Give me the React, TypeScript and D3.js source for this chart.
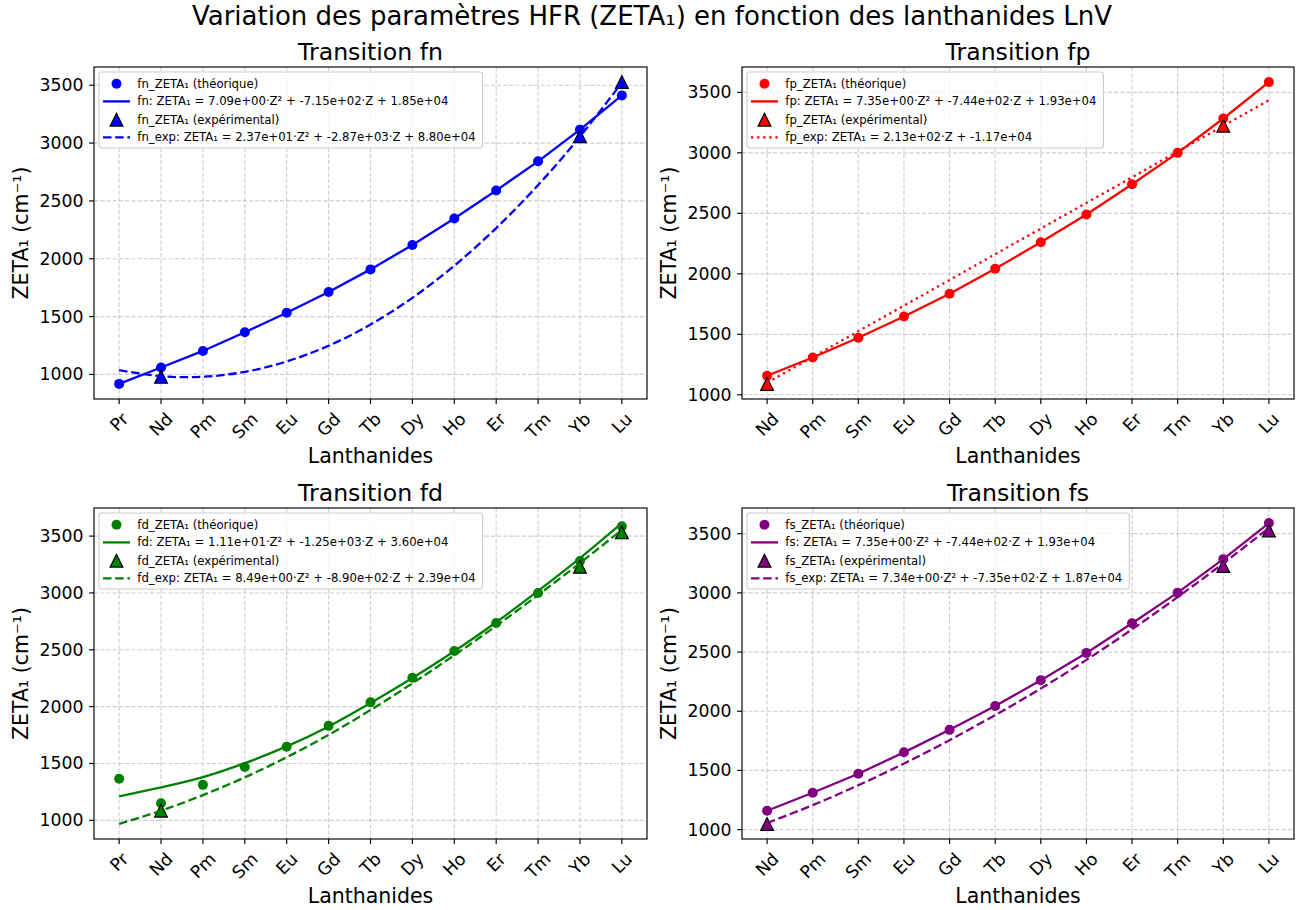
import React from 'react';
import * as d3 from 'd3';

// ---------- data ----------
const lanthanidesA = ["Pr", "Nd", "Pm", "Sm", "Eu", "Gd", "Tb", "Dy", "Ho", "Er", "Tm", "Yb", "Lu"];
const lanthanidesB = ["Nd", "Pm", "Sm", "Eu", "Gd", "Tb", "Dy", "Ho", "Er", "Tm", "Yb", "Lu"];
const yTicks = [1000, 1500, 2000, 2500, 3000, 3500];

// fn
const fnTheo = [918, 1060, 1203, 1365, 1533, 1713, 1908, 2119, 2348, 2590, 2842, 3116, 3412];
const fnFit = [918, 1060, 1203, 1365, 1533, 1713, 1908, 2119, 2348, 2590, 2842, 3116, 3412];
const fnExpCats = ["Nd", "Yb", "Lu"];
const fnExpVals = [979, 3059, 3527];
const fnExpFit = [1037, 985, 980, 1022, 1112, 1248, 1431, 1662, 1940, 2265, 2637, 3056, 3522];

// fp
const fpTheo = [1157, 1308, 1471, 1647, 1835, 2042, 2261, 2491, 2740, 3000, 3284, 3585];
const fpFit = [1157, 1308, 1471, 1647, 1835, 2042, 2261, 2491, 2740, 3000, 3284, 3585];
const fpExpCats = ["Nd", "Yb"];
const fpExpVals = [1090, 3225];
const fpExpFit = [1100, 1312, 1525, 1737, 1949, 2162, 2374, 2586, 2798, 3011, 3223, 3435];

// fd
const fdTheo = [1366, 1150, 1312, 1469, 1647, 1831, 2038, 2254, 2490, 2736, 3000, 3281, 3586];
const fdFit = [1211, 1290, 1380, 1503, 1650, 1826, 2032, 2252, 2487, 2742, 3018, 3307, 3615];
const fdExpCats = ["Nd", "Yb", "Lu"];
const fdExpVals = [1085, 3230, 3533];
const fdExpFit = [968, 1085, 1222, 1378, 1555, 1752, 1970, 2205, 2452, 2710, 2982, 3263, 3555];

// fs
const fsTheo = [1160, 1312, 1472, 1653, 1843, 2044, 2263, 2493, 2743, 3002, 3285, 3590];
const fsFit = [1160, 1312, 1472, 1653, 1843, 2044, 2263, 2493, 2743, 3002, 3285, 3590];
const fsExpCats = ["Nd", "Yb", "Lu"];
const fsExpVals = [1048, 3227, 3528];
const fsExpFit = [1056, 1207, 1375, 1558, 1756, 1968, 2192, 2434, 2692, 2965, 3250, 3548];

const fnLabels = [
  "fn_ZETA₁ (théorique)",
  "fn: ZETA₁ = 7.09e+00·Z² + -7.15e+02·Z + 1.85e+04",
  "fn_ZETA₁ (expérimental)",
  "fn_exp: ZETA₁ = 2.37e+01·Z² + -2.87e+03·Z + 8.80e+04",
];
const fpLabels = [
  "fp_ZETA₁ (théorique)",
  "fp: ZETA₁ = 7.35e+00·Z² + -7.44e+02·Z + 1.93e+04",
  "fp_ZETA₁ (expérimental)",
  "fp_exp: ZETA₁ = 2.13e+02·Z + -1.17e+04",
];
const fdLabels = [
  "fd_ZETA₁ (théorique)",
  "fd: ZETA₁ = 1.11e+01·Z² + -1.25e+03·Z + 3.60e+04",
  "fd_ZETA₁ (expérimental)",
  "fd_exp: ZETA₁ = 8.49e+00·Z² + -8.90e+02·Z + 2.39e+04",
];
const fsLabels = [
  "fs_ZETA₁ (théorique)",
  "fs: ZETA₁ = 7.35e+00·Z² + -7.44e+02·Z + 1.93e+04",
  "fs_ZETA₁ (expérimental)",
  "fs_exp: ZETA₁ = 7.34e+00·Z² + -7.35e+02·Z + 1.87e+04",
];

// ---------- layout / style ----------
const FONT = '"DejaVu Sans", "Liberation Sans", sans-serif';
const W = 1299, H = 910;
const LW = 2.3;
const DASH = `${3.7 * LW},${1.6 * LW}`;
const DOT = `${1 * LW},${1.65 * LW}`;

let canvasEl: HTMLCanvasElement | null = null;
function textWidth(t: string, size: number) {
  if (!canvasEl) canvasEl = document.createElement('canvas');
  const ctx = canvasEl.getContext('2d')!;
  ctx.font = `${size}px "DejaVu Sans"`;
  return ctx.measureText(t).width;
}

type PanelDef = {
  title: string; color: string; cats: string[]; theo: number[]; fit: number[]; fitSmooth: boolean;
  expCats: string[]; expVals: number[]; expFit: number[]; expDash: string; labels: string[];
  box: { x0: number; x1: number; y0: number; y1: number }; ylabX: number;
};

const panels: PanelDef[] = [
  { title: "Transition fn", color: "#0000ff", cats: lanthanidesA, theo: fnTheo, fit: fnFit, fitSmooth: false,
    expCats: fnExpCats, expVals: fnExpVals, expFit: fnExpFit, expDash: DASH, labels: fnLabels,
    box: { x0: 94, x1: 647, y0: 67, y1: 399 }, ylabX: 28 },
  { title: "Transition fp", color: "#ff0000", cats: lanthanidesB, theo: fpTheo, fit: fpFit, fitSmooth: false,
    expCats: fpExpCats, expVals: fpExpVals, expFit: fpExpFit, expDash: DOT, labels: fpLabels,
    box: { x0: 742, x1: 1294, y0: 67, y1: 399 }, ylabX: 676 },
  { title: "Transition fd", color: "#008000", cats: lanthanidesA, theo: fdTheo, fit: fdFit, fitSmooth: true,
    expCats: fdExpCats, expVals: fdExpVals, expFit: fdExpFit, expDash: DASH, labels: fdLabels,
    box: { x0: 94, x1: 647, y0: 508, y1: 839 }, ylabX: 28 },
  { title: "Transition fs", color: "#800080", cats: lanthanidesB, theo: fsTheo, fit: fsFit, fitSmooth: false,
    expCats: fsExpCats, expVals: fsExpVals, expFit: fsExpFit, expDash: DASH, labels: fsLabels,
    box: { x0: 742, x1: 1294, y0: 508, y1: 839 }, ylabX: 676 },
];

const TICK_FS = 17.3;
const LEG_FS = 11.7;
const CIRCLE_R = 5;
const TRI = 12.8;

function triPath(cx: number, cy: number, s: number) {
  const h = s / 2;
  return `M${cx},${cy - h}L${cx - h},${cy + h}L${cx + h},${cy + h}Z`;
}

function Panel({ p }: { p: PanelDef }) {
  const { box } = p;
  const n = p.cats.length;
  const x = d3.scaleLinear().domain([-0.05 * (n - 1), (n - 1) * 1.05]).range([box.x0, box.x1]);
  const all = [...p.theo, ...p.fit, ...p.expVals, ...p.expFit];
  const mn = d3.min(all)!, mx = d3.max(all)!;
  const pad = (mx - mn) * 0.05;
  const y = d3.scaleLinear().domain([mn - pad, mx + pad]).range([box.y1, box.y0]);

  const line = d3.line<number>().x((_, i) => x(i)).y(d => y(d))
    .curve(p.fitSmooth ? d3.curveNatural : d3.curveLinear);
  const expLine = d3.line<number>().x((_, i) => x(i)).y(d => y(d)).curve(d3.curveNatural);

  const cx = (box.x0 + box.x1) / 2;
  const cy = (box.y0 + box.y1) / 2;

  // legend
  const lx = box.x0 + 5, ly = box.y0 + 5;
  const textX = lx + 38.3;
  const maxW = d3.max(p.labels, t => textWidth(t, LEG_FS))!;
  const legW = 38.3 + maxW + 7;
  const legH = 76;
  const rowY = [11.7, 29.4, 47.7, 65.4].map(v => ly + v);
  const hx0 = lx + 4, hx1 = lx + 31, hcx = (hx0 + hx1) / 2;

  return (
    <g>
      {/* grid */}
      <g>
        {p.cats.map((c, i) => (
          <line key={'gx' + c} x1={x(i)} x2={x(i)} y1={box.y0} y2={box.y1}
            stroke="#b0b0b0" strokeOpacity={0.6} strokeWidth={1.15} strokeDasharray="4.3,1.9" />
        ))}
        {yTicks.map(t => (
          <line key={'gy' + t} x1={box.x0} x2={box.x1} y1={y(t)} y2={y(t)}
            stroke="#b0b0b0" strokeOpacity={0.6} strokeWidth={1.15} strokeDasharray="4.3,1.9" />
        ))}
      </g>
      {/* scatter theoretical */}
      {p.theo.map((v, i) => (
        <circle key={'c' + i} cx={x(i)} cy={y(v)} r={CIRCLE_R} fill={p.color} />
      ))}
      {/* scatter experimental */}
      {p.expCats.map((c, i) => (
        <path key={'t' + c} d={triPath(x(p.cats.indexOf(c)), y(p.expVals[i]), TRI)}
          fill={p.color} stroke="#000" strokeWidth={1.2} strokeLinejoin="miter" />
      ))}
      {/* fit lines */}
      <path d={line(p.fit)!} fill="none" stroke={p.color} strokeWidth={LW} />
      <path d={expLine(p.expFit)!} fill="none" stroke={p.color} strokeWidth={LW} strokeDasharray={p.expDash} />

      {/* spines */}
      <rect x={box.x0} y={box.y0} width={box.x1 - box.x0} height={box.y1 - box.y0}
        fill="none" stroke="#000" strokeWidth={1.15} />

      {/* y ticks */}
      {yTicks.map(t => (
        <g key={'yt' + t}>
          <line x1={box.x0 - 4.9} x2={box.x0} y1={y(t)} y2={y(t)} stroke="#000" strokeWidth={1.15} />
          <text x={box.x0 - 10.5} y={y(t)} dy="0.346em" textAnchor="end" fontSize={TICK_FS}
            fontFamily={FONT} fill="#000">{t}</text>
        </g>
      ))}
      {/* x ticks */}
      {p.cats.map((c, i) => {
        const w = textWidth(c, TICK_FS);
        const h = 1.164 * TICK_FS;
        const off = (w + h) / (2 * Math.SQRT2);
        const tx = x(i), ty = box.y1 + 9.8 + off;
        return (
          <g key={'xt' + c}>
            <line x1={x(i)} x2={x(i)} y1={box.y1} y2={box.y1 + 4.9} stroke="#000" strokeWidth={1.15} />
            <text transform={`translate(${tx},${ty}) rotate(-45)`} dy="0.346em" textAnchor="middle"
              fontSize={TICK_FS} fontFamily={FONT} fill="#000">{c}</text>
          </g>
        );
      })}

      {/* titles / labels */}
      <text x={cx} y={box.y0 - 7.5} textAnchor="middle" fontSize={23.6} fontFamily={FONT} fill="#000">{p.title}</text>
      <text x={cx} y={box.y1 + 64} textAnchor="middle" fontSize={20.5} fontFamily={FONT} fill="#000">Lanthanides</text>
      <text transform={`translate(${p.ylabX},${cy}) rotate(-90)`} textAnchor="middle" fontSize={20.5}
        fontFamily={FONT} fill="#000">ZETA₁ (cm⁻¹)</text>

      {/* legend */}
      <g>
        <rect x={lx} y={ly} width={legW} height={legH} rx={2.5} ry={2.5}
          fill="#fff" fillOpacity={0.8} stroke="#cccccc" strokeWidth={1.1} />
        <circle cx={hcx} cy={rowY[0]} r={CIRCLE_R} fill={p.color} />
        <line x1={hx0} x2={hx1} y1={rowY[1]} y2={rowY[1]} stroke={p.color} strokeWidth={LW} />
        <path d={triPath(hcx, rowY[2], TRI)} fill={p.color} stroke="#000" strokeWidth={1.2} />
        <line x1={hx0} x2={hx1} y1={rowY[3]} y2={rowY[3]} stroke={p.color} strokeWidth={LW}
          strokeDasharray={p.expDash} />
        {p.labels.map((t, i) => (
          <text key={'lt' + i} x={textX} y={rowY[i]} dy="0.346em" fontSize={LEG_FS} fontFamily={FONT}
            fill="#000">{t}</text>
        ))}
      </g>
    </g>
  );
}

export default function App() {
  return (
    <svg width={W} height={H} viewBox={`0 0 ${W} ${H}`}
      style={{ position: 'absolute', left: 0, top: 0, display: 'block', background: '#fff' }}>
      <rect x={0} y={0} width={W} height={H} fill="#fff" />
      <text x={652} y={25} textAnchor="middle" fontSize={26} fontFamily={FONT} fill="#000">
        Variation des paramètres HFR (ZETA₁) en fonction des lanthanides LnV
      </text>
      {panels.map(p => <Panel key={p.title} p={p} />)}
    </svg>
  );
}
